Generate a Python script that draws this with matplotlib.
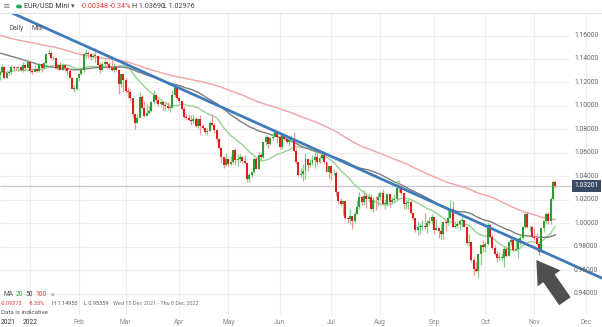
import numpy as np
import pandas as pd
import matplotlib
matplotlib.use('Agg')
import matplotlib.pyplot as plt
from matplotlib.patches import FancyArrowPatch, Circle
from matplotlib.transforms import blended_transform_factory

plt.rcParams['font.family'] = ['Roboto', 'DejaVu Sans']

FIRST_DAY = '2021-12-15'
AXIS_END = '2022-12-08'

# daily closes before the visible window, only used to seed the moving averages
warmup_closes = [
    1.1845, 1.1885, 1.1870,
    1.1870, 1.1865, 1.1835, 1.1830, 1.1760, 1.1740, 1.1715, 1.1740, 1.1730, 1.1795,
    1.1780, 1.1710, 1.1675, 1.1675, 1.1700, 1.1745, 1.1755, 1.1765, 1.1745, 1.1795,
    1.1800, 1.1810,
    1.1840, 1.1875, 1.1880, 1.1865, 1.1840, 1.1825, 1.1830, 1.1810, 1.1805, 1.1805,
    1.1820, 1.1765, 1.1725, 1.1725, 1.1725, 1.1690, 1.1740, 1.1720, 1.1695, 1.1685,
    1.1600, 1.1580,
    1.1595, 1.1620, 1.1595, 1.1555, 1.1555, 1.1570, 1.1550, 1.1595, 1.1595, 1.1595,
    1.1600, 1.1610, 1.1650, 1.1650, 1.1625, 1.1645, 1.1610, 1.1600, 1.1605, 1.1680,
    1.1560,
    1.1610, 1.1580, 1.1610, 1.1555, 1.1570, 1.1590, 1.1590, 1.1480, 1.1445, 1.1445,
    1.1370, 1.1320, 1.1320, 1.1370, 1.1290, 1.1235, 1.1245, 1.1210, 1.1205, 1.1315,
    1.1290, 1.1335,
    1.1320, 1.1305, 1.1315, 1.1285, 1.1265, 1.1345, 1.1290, 1.1315, 1.1285, 1.1260,
]

# EUR/USD daily bars, 15 Dec 2021 - 14 Nov 2022 (open = previous close)
closes = [
    # Dec 2021
    1.1290, 1.1330, 1.1240, 1.1280, 1.1285, 1.1330, 1.1325, 1.1320, 1.1330, 1.1310,
    1.1350, 1.1325, 1.1370,
    # Jan
    1.1300, 1.1285, 1.1315, 1.1295, 1.1360, 1.1325, 1.1365, 1.1440, 1.1455, 1.1410,
    1.1405, 1.1325, 1.1345, 1.1310, 1.1345, 1.1325, 1.1300, 1.1240, 1.1145, 1.1145,
    1.1235,
    # Feb
    1.1270, 1.1305, 1.1440, 1.1450, 1.1440, 1.1415, 1.1425, 1.1425, 1.1350, 1.1305,
    1.1355, 1.1370, 1.1360, 1.1320, 1.1310, 1.1330, 1.1310, 1.1190, 1.1270, 1.1220,
    # Mar
    1.1125, 1.1120, 1.1065, 1.0930, 1.0855, 1.0900, 1.1075, 1.0985, 1.0910, 1.0940,
    1.0955, 1.1030, 1.1095, 1.1050, 1.1015, 1.1030, 1.1005, 1.0995, 1.0985, 1.0985,
    1.1090, 1.1160, 1.1065,
    # Apr
    1.1045, 1.0970, 1.0905, 1.0900, 1.0880, 1.0875, 1.0885, 1.0830, 1.0890, 1.0825,
    1.0810, 1.0780, 1.0790, 1.0855, 1.0835, 1.0795, 1.0715, 1.0640, 1.0560, 1.0500,
    1.0545,
    # May
    1.0505, 1.0525, 1.0620, 1.0540, 1.0550, 1.0560, 1.0530, 1.0515, 1.0380, 1.0410,
    1.0435, 1.0550, 1.0465, 1.0585, 1.0560, 1.0690, 1.0735, 1.0675, 1.0725, 1.0735,
    1.0780, 1.0735,
    # Jun
    1.0650, 1.0750, 1.0720, 1.0695, 1.0705, 1.0715, 1.0615, 1.0520, 1.0410, 1.0415,
    1.0445, 1.0545, 1.0495, 1.0510, 1.0535, 1.0565, 1.0520, 1.0555, 1.0585, 1.0520,
    1.0440, 1.0485,
    # Jul
    1.0425, 1.0425, 1.0265, 1.0185, 1.0160, 1.0185, 1.0040, 1.0035, 1.0060, 1.0015,
    1.0080, 1.0140, 1.0225, 1.0180, 1.0230, 1.0210, 1.0225, 1.0120, 1.0200, 1.0195,
    1.0220,
    # Aug
    1.0260, 1.0165, 1.0165, 1.0245, 1.0180, 1.0195, 1.0210, 1.0300, 1.0320, 1.0260,
    1.0160, 1.0170, 1.0180, 1.0085, 1.0040, 0.9940, 0.9970, 0.9970, 0.9975, 0.9965,
    1.0005, 1.0020, 1.0055,
    # Sep
    0.9945, 0.9955, 0.9930, 0.9905, 1.0010, 1.0000, 1.0040, 1.0120, 0.9970, 0.9980,
    0.9995, 1.0015, 1.0025, 0.9970, 0.9835, 0.9840, 0.9690, 0.9605, 0.9595, 0.9735,
    0.9815, 0.9800,
    # Oct
    0.9825, 0.9985, 0.9885, 0.9790, 0.9740, 0.9705, 0.9705, 0.9705, 0.9780, 0.9720,
    0.9840, 0.9860, 0.9775, 0.9780, 0.9860, 0.9875, 0.9965, 1.0075, 0.9965, 0.9965,
    0.9885,
    # Nov
    0.9875, 0.9820, 0.9750, 0.9960, 1.0020, 1.0075, 1.0015, 1.0210, 1.0355, 1.0320,
]

highs = [
    1.1300, 1.1360, 1.1335, 1.1305, 1.1305, 1.1345, 1.1340, 1.1340, 1.1335, 1.1340,
    1.1370, 1.1360, 1.1385,
    1.1375, 1.1320, 1.1345, 1.1320, 1.1365, 1.1365, 1.1370, 1.1450, 1.1482, 1.1465,
    1.1425, 1.1410, 1.1355, 1.1370, 1.1365, 1.1360, 1.1335, 1.1320, 1.1245, 1.1175,
    1.1240,
    1.1280, 1.1310, 1.1450, 1.1485, 1.1468, 1.1450, 1.1448, 1.1495, 1.1430, 1.1370,
    1.1370, 1.1395, 1.1375, 1.1370, 1.1395, 1.1365, 1.1345, 1.1275, 1.1275, 1.1245,
    1.1235, 1.1160, 1.1145, 1.1070, 1.0935, 1.0935, 1.1120, 1.1095, 1.1045, 1.1020,
    1.0995, 1.1040, 1.1135, 1.1100, 1.1070, 1.1045, 1.1040, 1.1025, 1.1035, 1.0995,
    1.1135, 1.1185, 1.1170,
    1.1075, 1.1045, 1.0995, 1.0935, 1.0935, 1.0925, 1.0935, 1.0905, 1.0895, 1.0925,
    1.0845, 1.0820, 1.0815, 1.0870, 1.0935, 1.0855, 1.0795, 1.0730, 1.0650, 1.0575,
    1.0595,
    1.0545, 1.0575, 1.0625, 1.0640, 1.0590, 1.0590, 1.0570, 1.0580, 1.0515, 1.0425,
    1.0440, 1.0560, 1.0565, 1.0605, 1.0600, 1.0695, 1.0750, 1.0735, 1.0735, 1.0765,
    1.0785, 1.0765,
    1.0740, 1.0750, 1.0765, 1.0750, 1.0715, 1.0750, 1.0775, 1.0640, 1.0480, 1.0470,
    1.0505, 1.0600, 1.0550, 1.0545, 1.0580, 1.0605, 1.0595, 1.0570, 1.0615, 1.0605,
    1.0525, 1.0490,
    1.0485, 1.0460, 1.0445, 1.0275, 1.0215, 1.0190, 1.0160, 1.0055, 1.0120, 1.0065,
    1.0100, 1.0200, 1.0270, 1.0235, 1.0280, 1.0255, 1.0255, 1.0250, 1.0220, 1.0235,
    1.0255,
    1.0275, 1.0295, 1.0210, 1.0255, 1.0245, 1.0225, 1.0245, 1.0370, 1.0365, 1.0330,
    1.0255, 1.0200, 1.0205, 1.0200, 1.0090, 1.0045, 1.0015, 0.9999, 1.0030, 1.0090,
    1.0025, 1.0055, 1.0080,
    1.0055, 1.0035, 0.9945, 0.9990, 1.0015, 1.0030, 1.0115, 1.0195, 1.0185, 1.0020,
    1.0015, 1.0035, 1.0050, 1.0020, 0.9975, 0.9905, 0.9850, 0.9710, 0.9670, 0.9740,
    0.9815, 0.9855,
    0.9840, 0.9999, 0.9995, 0.9905, 0.9815, 0.9760, 0.9750, 0.9745, 0.9805, 0.9805,
    0.9850, 0.9875, 0.9865, 0.9875, 0.9870, 0.9900, 0.9975, 1.0090, 1.0095, 0.9985,
    0.9975,
    0.9955, 0.9920, 0.9830, 0.9965, 1.0030, 1.0095, 1.0095, 1.0225, 1.0365, 1.0369,
]

lows = [
    1.1222, 1.1285, 1.1235, 1.1235, 1.1260, 1.1270, 1.1305, 1.1310, 1.1300, 1.1300,
    1.1290, 1.1300, 1.1320,
    1.1280, 1.1272, 1.1285, 1.1285, 1.1290, 1.1285, 1.1315, 1.1355, 1.1435, 1.1400,
    1.1395, 1.1315, 1.1310, 1.1305, 1.1305, 1.1295, 1.1265, 1.1235, 1.1140, 1.1122,
    1.1135,
    1.1215, 1.1260, 1.1285, 1.1410, 1.1410, 1.1395, 1.1405, 1.1375, 1.1340, 1.1280,
    1.1300, 1.1340, 1.1325, 1.1315, 1.1300, 1.1290, 1.1300, 1.1105, 1.1165, 1.1125,
    1.1110, 1.1065, 1.1045, 1.0900, 1.0805, 1.0860, 1.0905, 1.0975, 1.0905, 1.0925,
    1.0935, 1.0945, 1.1020, 1.1025, 1.0995, 1.0995, 1.0965, 1.0965, 1.0965, 1.0945,
    1.0990, 1.1075, 1.1060,
    1.1025, 1.0965, 1.0900, 1.0880, 1.0870, 1.0835, 1.0855, 1.0820, 1.0810, 1.0760,
    1.0800, 1.0760, 1.0755, 1.0785, 1.0825, 1.0770, 1.0695, 1.0635, 1.0515, 1.0470,
    1.0490,
    1.0490, 1.0495, 1.0505, 1.0495, 1.0485, 1.0520, 1.0515, 1.0505, 1.0350, 1.0355,
    1.0390, 1.0425, 1.0460, 1.0460, 1.0530, 1.0555, 1.0665, 1.0640, 1.0665, 1.0705,
    1.0735, 1.0680,
    1.0630, 1.0630, 1.0705, 1.0680, 1.0655, 1.0690, 1.0610, 1.0505, 1.0400, 1.0395,
    1.0360, 1.0380, 1.0445, 1.0480, 1.0500, 1.0470, 1.0500, 1.0510, 1.0550, 1.0510,
    1.0435, 1.0385,
    1.0365, 1.0410, 1.0235, 1.0160, 1.0145, 1.0070, 1.0035, 0.9999, 0.9995, 0.9950,
    1.0005, 1.0080, 1.0125, 1.0155, 1.0155, 1.0130, 1.0180, 1.0110, 1.0095, 1.0115,
    1.0145,
    1.0195, 1.0160, 1.0125, 1.0150, 1.0140, 1.0160, 1.0185, 1.0200, 1.0270, 1.0240,
    1.0125, 1.0120, 1.0125, 1.0075, 1.0030, 0.9925, 0.9900, 0.9910, 0.9945, 0.9950,
    0.9915, 0.9985, 0.9990,
    0.9910, 0.9940, 0.9875, 0.9865, 0.9865, 0.9930, 0.9985, 1.0035, 0.9965, 0.9955,
    0.9955, 0.9945, 0.9965, 0.9965, 0.9810, 0.9805, 0.9670, 0.9555, 0.9580, 0.9536,
    0.9640, 0.9750,
    0.9750, 0.9810, 0.9875, 0.9780, 0.9730, 0.9670, 0.9685, 0.9675, 0.9630, 0.9710,
    0.9720, 0.9810, 0.9760, 0.9760, 0.9705, 0.9810, 0.9865, 0.9960, 0.9955, 0.9930,
    0.9875,
    0.9855, 0.9815, 0.9730, 0.9750, 0.9925, 0.9995, 0.9995, 0.9990, 1.0195, 1.0298,
]

ma_windows = [20, 50, 100]
ma_colors = ['#97d497', '#7d7d7d', '#f4a2a2']

price_ticks = [0.94, 0.96, 0.98, 1.00, 1.02, 1.04, 1.06, 1.08, 1.10, 1.12, 1.14, 1.16]
month_starts = ['2022-01-01', '2022-02-01', '2022-03-01', '2022-04-01', '2022-05-01',
                '2022-06-01', '2022-07-01', '2022-08-01', '2022-09-01', '2022-10-01',
                '2022-11-01', '2022-12-01']
month_labels = ['2022', 'Feb', 'Mar', 'Apr', 'May', 'Jun', 'Jul', 'Aug', 'Sep', 'Oct',
                'Nov', 'Dec']

trend_dates = ['2021-12-15', '2022-12-08']
trend_prices = [1.1840, 0.9549]
last_price = 1.03201

UP = '#2f9e2f'
DOWN = '#e01f1d'
UP_WICK = '#8ccd8c'
DOWN_WICK = '#f19696'
GRID = '#eeeeee'
TEXT = '#666666'
RED_TEXT = '#e2383c'


# ---- prepare series ----
axis_days = pd.bdate_range(FIRST_DAY, AXIS_END)
closes = np.array(closes)
highs = np.array(highs)
lows = np.array(lows)
opens = np.r_[warmup_closes[-1], closes[:-1]]
x = np.arange(len(closes))

full = pd.Series(np.r_[warmup_closes, closes])
n_warm = len(warmup_closes)


def day_pos(day):
    return axis_days.searchsorted(pd.Timestamp(day))


fig = plt.figure(figsize=(6.02, 3.27), dpi=100)
ax = fig.add_axes([0, 12 / 327, 1, 302 / 327])
ax.set_xlim(0.15, 258.0)
ax.set_ylim(0.9217, 1.1792)
ax.axis('off')

# grid
for m in month_starts:
    ax.axvline(day_pos(m), color=GRID, lw=0.8, zorder=0)
ax.hlines(price_ticks, 0, 244, color=GRID, lw=0.8, zorder=0)

# last price line
ax.hlines(last_price, 0, 246, color='#c9ccd6', lw=1.0, zorder=1)

# moving averages
for w, c in zip(ma_windows, ma_colors):
    ma = full.rolling(w).mean().values[n_warm:]
    ax.plot(x, ma, color=c, lw=1.0, zorder=2)

# candles
up = closes >= opens
body_lo = np.minimum(opens, closes)
body_h = np.maximum(np.abs(closes - opens), 0.0005)
ax.vlines(x[up], lows[up], highs[up], color=UP_WICK, lw=0.9, zorder=3)
ax.vlines(x[~up], lows[~up], highs[~up], color=DOWN_WICK, lw=0.9, zorder=3)
ax.bar(x[up], body_h[up], bottom=body_lo[up], width=0.85, color=UP, lw=0, zorder=4)
ax.bar(x[~up], body_h[~up], bottom=body_lo[~up], width=0.85, color=DOWN, lw=0, zorder=4)

# trend line
tp = [(day_pos(d), p) for d, p in zip(trend_dates, trend_prices)]
ax.axline(tp[0], tp[1], color='#3f7bb8', lw=2.0, zorder=5)

# arrow pointing at the retest
arrow = FancyArrowPatch((242.8, 0.9315), (229.2, 0.9705),
                        arrowstyle='simple,head_length=1.6,head_width=2.0,tail_width=1.0',
                        mutation_scale=10, color='#4f4f4f', lw=0, zorder=6)
ax.add_patch(arrow)

# right price scale
ylab = blended_transform_factory(ax.transAxes, ax.transData)
for p in price_ticks:
    ax.text(574 / 602, p, '{:.5f}'.format(p), transform=ylab, fontsize=4.9,
            color=TEXT, va='center', ha='left', zorder=7)
ax.text(574 / 602, last_price, '{:.5f}'.format(last_price), transform=ylab,
        fontsize=4.9, color='white', va='center', ha='left', zorder=8,
        bbox=dict(boxstyle='square,pad=0.35', fc='#3b4a64', ec='none'))

# month labels
xlab = blended_transform_factory(ax.transData, fig.transFigure)
for m, lab in zip(month_starts, month_labels):
    col = '#333333' if lab == '2022' else '#888888'
    ax.text(day_pos(m), 1 - 322 / 327, lab, transform=xlab, fontsize=4.8,
            color=col, ha='center', va='center')
fig.text(1 / 602, 1 - 322 / 327, '2021', fontsize=4.8, color='#333333', va='center')

# header bar
fig.add_artist(plt.Line2D([0, 1], [1 - 13 / 327] * 2, color='#dfe4e7', lw=0.8))


def ftext(px, py, s, color='#444444', size=4.6, **kw):
    fig.text(px / 602, 1 - py / 327, s, color=color, fontsize=size, va='center', **kw)


ftext(2, 6.5, '\u2261', color='#888888', size=6.5)
fig.add_artist(Circle((19 / 602, 1 - 6.5 / 327), 2.3 / 602, color='#2fa84f',
                      transform=fig.transFigure))
ftext(24, 6.5, 'EUR/USD Mini', color='#333333', size=5.1)
ftext(70.5, 7, '\u25be', color='#555555', size=5.3)
ftext(81, 6.5, '-0.00348', color=RED_TEXT, size=5.2)
ftext(110, 6.5, '-0.34%', color=RED_TEXT, size=5.2)
ftext(132, 6.5, 'H 1.03690', size=5.2)
ftext(163, 6.5, 'L 1.02976', size=5.2)

ftext(10, 29, 'Daily', color='#555555', size=4.7)
ftext(32, 29, 'Mid', color='#555555', size=4.7)

# indicator legend and range summary
ftext(3, 295, 'MA', color='#555555', size=4.8)
ftext(15.5, 295, '20', color='#3aa83a', size=4.8)
ftext(25.5, 295, '50', color='#444444', size=4.8)
ftext(35.5, 295, '100', color=RED_TEXT, size=4.8)
ftext(51, 295, '\u00d7', color='#888888', size=4.8)
ftext(1, 303.5, '-0.09373', color=RED_TEXT, size=4.0)
ftext(29, 303.5, '-8.33%', color=RED_TEXT, size=4.0)
ftext(52, 303.5, 'H 1.14950', color='#555555', size=4.0)
ftext(84, 303.5, 'L 0.95359', color='#555555', size=4.0)
ftext(113, 303.5, 'Wed 15 Dec 2021 - Thu 8 Dec 2022', color='#777777', size=4.0)
ftext(1, 312, 'Data is indicative', color='#555555', size=4.5)

fig.savefig('out.png', dpi=100)
